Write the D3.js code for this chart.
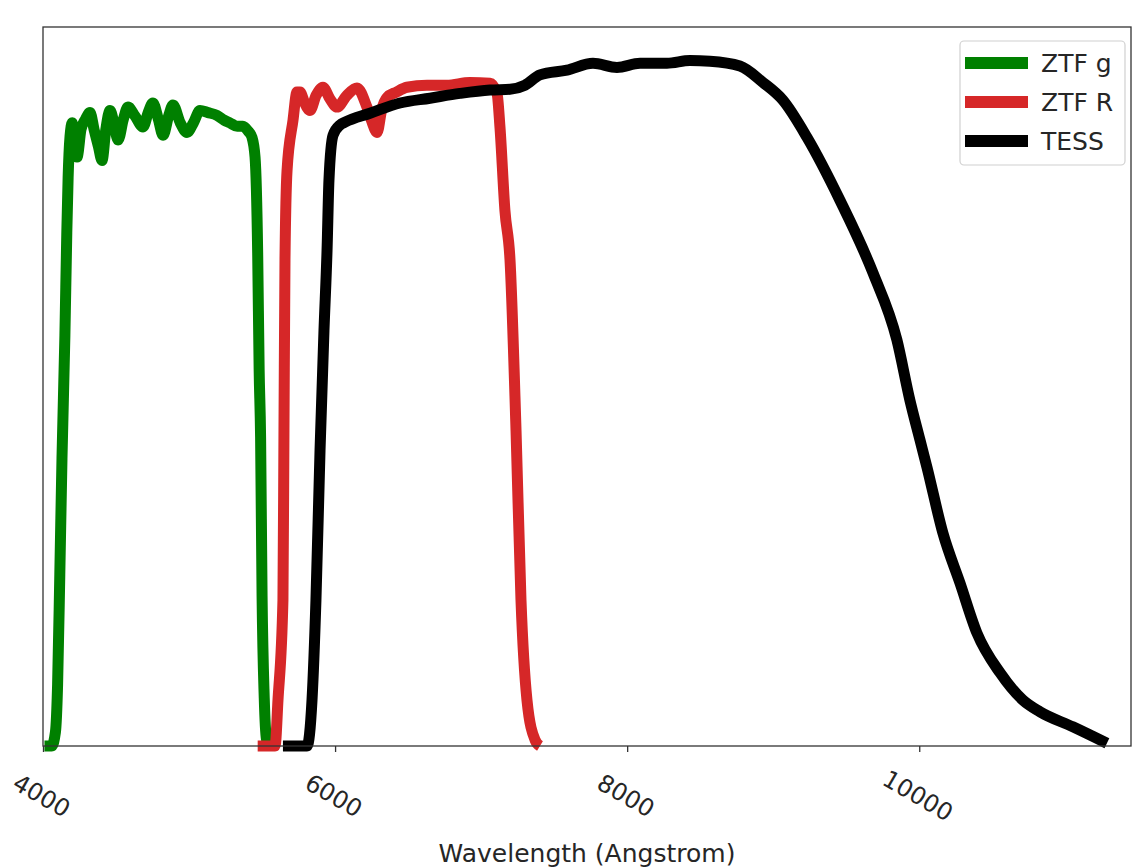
<!DOCTYPE html>
<html><head><meta charset="utf-8">
<script src="https://cdn.jsdelivr.net/npm/d3@7"></script>
<style>body{margin:0;background:#fff}svg{display:block}text{font-family:"DejaVu Sans",sans-serif;fill:#262626}</style>
</head><body><svg id="c" width="1132" height="868"></svg>
<script>
const seriesNames = ["ZTF g", "ZTF R", "TESS"];
const seriesColors = ["#008000", "#d62728", "#000000"];
const xTicks = [4000, 6000, 8000, 10000];
const xLabel = "Wavelength (Angstrom)";
const ztfG = [[4010,0],[4060,0],[4085,0.02],[4100,0.09],[4115,0.25],[4130,0.42],[4150,0.6],[4163,0.75],[4172,0.83],[4185,0.89],[4200,0.91],[4215,0.89],[4233,0.86],[4260,0.90],[4290,0.915],[4322,0.925],[4350,0.90],[4380,0.875],[4404,0.855],[4430,0.90],[4459,0.928],[4485,0.91],[4514,0.885],[4550,0.915],[4582,0.933],[4630,0.92],[4685,0.904],[4720,0.925],[4753,0.939],[4790,0.915],[4822,0.892],[4860,0.92],[4890,0.936],[4940,0.91],[4986,0.896],[5030,0.91],[5075,0.928],[5130,0.925],[5191,0.921],[5240,0.914],[5280,0.910],[5330,0.905],[5369,0.905],[5405,0.898],[5431,0.889],[5452,0.86],[5470,0.72],[5480,0.55],[5490,0.45],[5500,0.22],[5515,0.07],[5530,0.01],[5545,0]];
const ztfR = [[5470,0],[5589,0],[5609,0.067],[5643,0.213],[5650,0.461],[5657,0.71],[5671,0.84],[5712,0.914],[5739,0.955],[5760,0.955],[5790,0.94],[5828,0.928],[5870,0.95],[5917,0.962],[5965,0.945],[6013,0.933],[6080,0.95],[6150,0.961],[6218,0.933],[6255,0.91],[6287,0.896],[6320,0.93],[6355,0.947],[6420,0.955],[6492,0.962],[6629,0.965],[6766,0.965],[6923,0.969],[7061,0.968],[7109,0.953],[7129,0.904],[7163,0.782],[7198,0.709],[7239,0.461],[7273,0.213],[7314,0.067],[7369,0.009],[7403,0]];
const tess = [[5643,0],[5808,0],[5842,0.067],[5869,0.213],[5897,0.432],[5924,0.607],[5945,0.724],[5958,0.826],[5986,0.892],[6034,0.907],[6068,0.911],[6239,0.924],[6444,0.939],[6650,0.946],[6855,0.953],[7061,0.958],[7198,0.959],[7300,0.965],[7403,0.980],[7588,0.987],[7766,0.997],[7930,0.991],[8088,0.997],[8273,0.997],[8430,1.001],[8567,1.0],[8772,0.993],[8930,0.969],[9067,0.943],[9231,0.889],[9457,0.797],[9683,0.691],[9847,0.593],[9936,0.505],[10005,0.447],[10053,0.407],[10162,0.311],[10279,0.238],[10395,0.165],[10553,0.107],[10710,0.067],[10826,0.050],[11052,0.028],[11285,0.004]];
const allSeries = [ztfG, ztfR, tess];

const L = 43, R = 1131, T = 27, B = 746;
const x = d3.scaleLinear().domain([4000, 11450]).range([L, R]);
const y = d3.scaleLinear().domain([0, 1.05]).range([B, T]);
const svg = d3.select("#c");

const g = svg.append("g");
const line = d3.line().x(d=>x(d[0])).y(d=>y(d[1])).curve(d3.curveMonotoneX);
allSeries.forEach((s,i)=>{
  g.append("path").attr("d", line(s)).attr("fill","none").attr("stroke",seriesColors[i])
   .attr("stroke-width",11).attr("stroke-linejoin","round").attr("stroke-linecap","butt");
});

// axes
const ax = svg.append("g").attr("transform",`translate(0,${B})`)
  .call(d3.axisBottom(x).tickValues(xTicks).tickSize(6).tickFormat(d3.format("d")));
ax.select(".domain").remove();
ax.selectAll(".tick line").attr("stroke","#333").attr("stroke-width",1.3);
ax.selectAll(".tick text").attr("font-size",24).attr("fill","#262626")
  .attr("text-anchor","middle").attr("dominant-baseline","central")
  .attr("x",0).attr("y",0).attr("dy",null)
  .attr("transform","translate(-2,50) rotate(30)");

svg.append("rect").attr("x",L).attr("y",T).attr("width",R-L).attr("height",B-T)
  .attr("fill","none").attr("stroke","#333").attr("stroke-width",1.3);

svg.append("text").attr("x",(L+R)/2).attr("y",862).attr("text-anchor","middle")
  .attr("font-size",25).text(xLabel);

// legend
const lg = svg.append("g");
lg.append("rect").attr("x",960).attr("y",41).attr("width",165).attr("height",124).attr("rx",4)
  .attr("fill","#fff").attr("fill-opacity",0.8).attr("stroke","#d0d0d0").attr("stroke-width",1.2);
seriesNames.forEach((n,i)=>{
  const yy = 63 + i*39;
  lg.append("line").attr("x1",965).attr("x2",1028).attr("y1",yy).attr("y2",yy)
    .attr("stroke",seriesColors[i]).attr("stroke-width",12);
  lg.append("text").attr("x",1041).attr("y",yy).attr("dominant-baseline","central")
    .attr("font-size",25).text(n);
});
</script></body></html>
